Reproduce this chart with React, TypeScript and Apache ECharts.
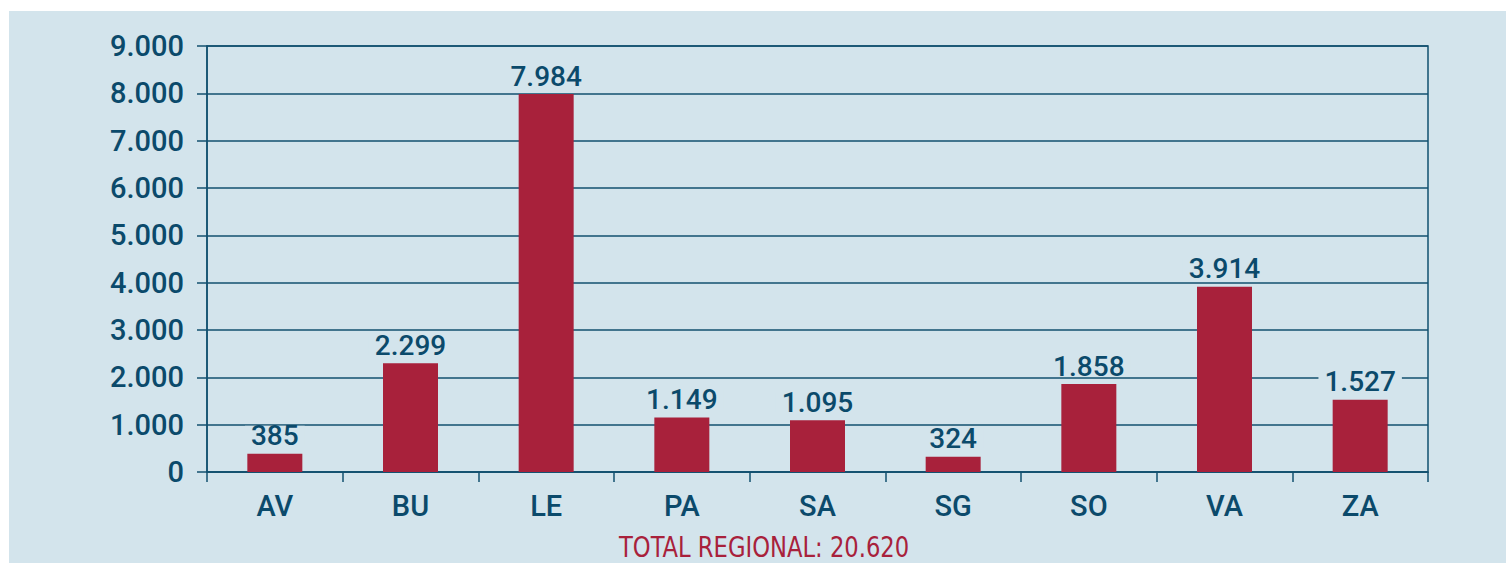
import React, { useEffect, useRef } from "react";
import * as echarts from "echarts";

const categories = ["AV", "BU", "LE", "PA", "SA", "SG", "SO", "VA", "ZA"];
const values = [385, 2299, 7984, 1149, 1095, 324, 1858, 3914, 1527];
const totalLabel = "TOTAL REGIONAL: 20.620";

const BG = "#d3e4ec";
const INK = "#0b4a6b";
const LINE = "#12506f";
const BAR = "#a8213b";

const fmt = (v: number) => String(v).replace(/\B(?=(\d{3})+(?!\d))/g, ".");

export default function App() {
  const ref = useRef<HTMLDivElement>(null);
  useEffect(() => {
    if (!ref.current) return;
    const chart = echarts.init(ref.current, null, { renderer: "svg" });
    chart.setOption({
      animation: false,
      backgroundColor: BG,
      grid: {
        left: 198,
        top: 35,
        right: 78,
        bottom: 91,
        show: true,
        borderColor: LINE,
        borderWidth: 1.5,
        backgroundColor: "transparent",
      },
      xAxis: {
        type: "category",
        data: categories,
        axisLine: { show: true, lineStyle: { color: LINE, width: 1.5 } },
        axisTick: { show: true, length: 10, alignWithLabel: false, lineStyle: { color: LINE, width: 1.5 } },
        axisLabel: {
          color: INK,
          fontFamily: "Roboto",
          fontWeight: 500,
          fontSize: 29,
          margin: 19,
        },
      },
      yAxis: {
        type: "value",
        min: 0,
        max: 9000,
        interval: 1000,
        axisLine: { show: true, lineStyle: { color: LINE, width: 1.5 } },
        axisTick: { show: true, length: 10, lineStyle: { color: LINE, width: 1.5 } },
        splitLine: { show: true, lineStyle: { color: LINE, width: 1.5 } },
        axisLabel: {
          color: INK,
          fontFamily: "Roboto",
          fontWeight: 500,
          fontSize: 29,
          margin: 23,
          formatter: (v: number) => fmt(v),
        },
      },
      series: [
        {
          type: "bar",
          data: values,
          barWidth: 55,
          itemStyle: { color: BAR },
          label: {
            show: true,
            position: "top",
            distance: 8,
            color: INK,
            fontFamily: "Roboto",
            fontWeight: 500,
            fontSize: 28,
            lineHeight: 20,
            backgroundColor: BG,
            padding: [0, 6],
            formatter: (p: any) => fmt(p.value),
          },
        },
      ],
      graphic: [
        {
          type: "text",
          x: 610,
          y: 524,
          scaleX: 0.9,
          style: {
            text: totalLabel,
            fill: BAR,
            fontFamily: "Liberation Sans Narrow, DejaVu Sans Condensed, sans-serif",
            fontSize: 28,
            lineHeight: 24,
            textAlign: "left",
            textVerticalAlign: "top",
          },
        },
      ],
    });
    return () => chart.dispose();
  }, []);
  return (
    <div
      ref={ref}
      style={{ position: "absolute", left: 9, top: 11, width: 1497, height: 552 }}
    />
  );
}
